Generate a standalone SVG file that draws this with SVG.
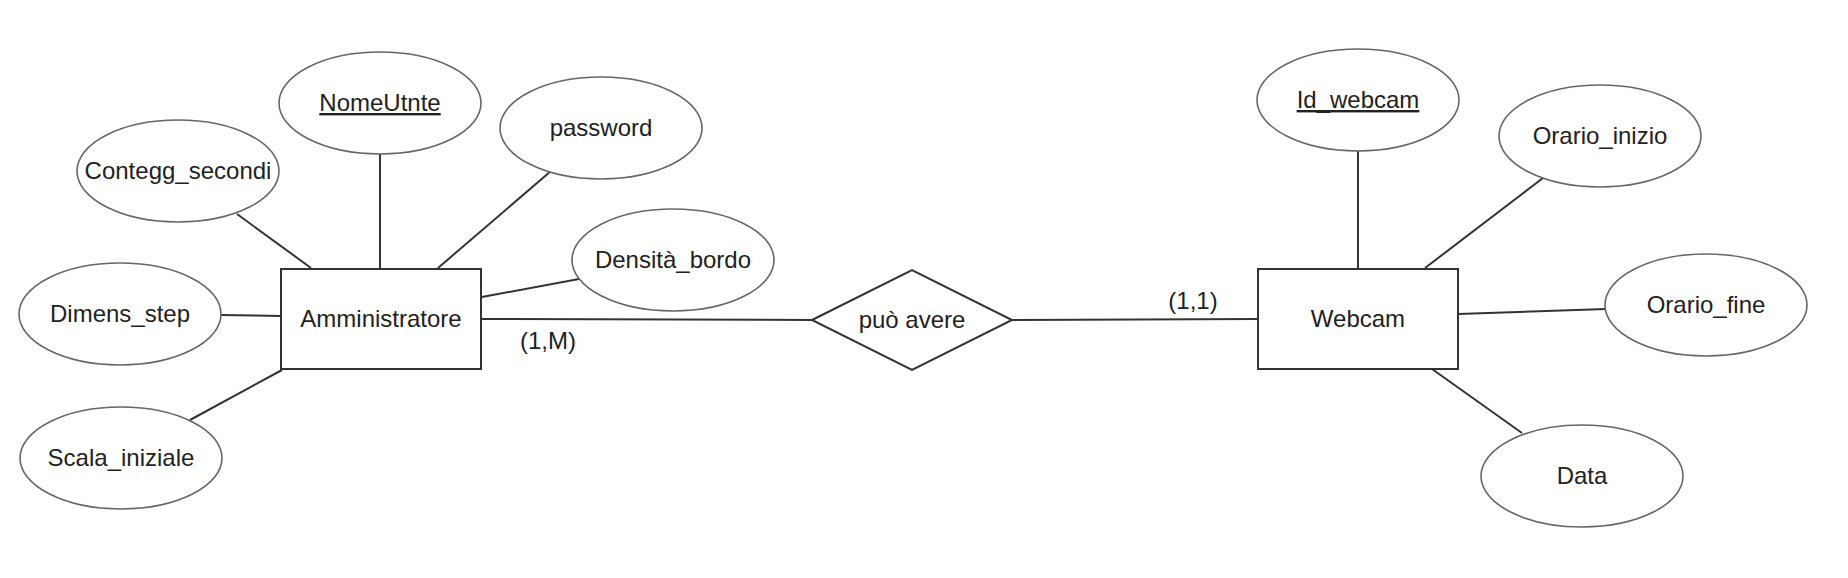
<svg xmlns="http://www.w3.org/2000/svg" width="1848" height="578" viewBox="0 0 1848 578">
<style>
.ent{fill:#fff;stroke:#333;stroke-width:2}
.att{fill:#fff;stroke:#666;stroke-width:1.6}
.rel{fill:#fff;stroke:#333;stroke-width:2}
.ln{stroke:#333;stroke-width:2;fill:none}
text{font-family:"Liberation Sans",Arial,sans-serif;font-size:24px;fill:#222;text-anchor:middle}
.key{text-decoration:underline}
</style>
<rect width="1848" height="578" fill="#fff"/>
<g id="connectors">
<line class="ln" x1="237" y1="214" x2="311" y2="268"/>
<line class="ln" x1="380" y1="154" x2="380" y2="268"/>
<line class="ln" x1="551" y1="171" x2="438" y2="268"/>
<line class="ln" x1="579" y1="279" x2="482" y2="297"/>
<line class="ln" x1="220" y1="315" x2="281" y2="316"/>
<line class="ln" x1="282" y1="370" x2="190" y2="420"/>
<line class="ln" x1="481" y1="319" x2="812" y2="320"/>
<line class="ln" x1="1012" y1="320" x2="1258" y2="319"/>
<line class="ln" x1="1358" y1="150" x2="1358" y2="268"/>
<line class="ln" x1="1543" y1="178" x2="1425" y2="268"/>
<line class="ln" x1="1458" y1="314" x2="1606" y2="309"/>
<line class="ln" x1="1432" y1="369" x2="1522" y2="433"/>
<text x="548" y="349">(1,M)</text>
<text x="1193" y="309">(1,1)</text>
</g>
<g id="amministratore">
<rect class="ent" x="281" y="269" width="200" height="100"/>
<text x="381" y="327">Amministratore</text>
</g>
<g id="webcam">
<rect class="ent" x="1258" y="269" width="200" height="100"/>
<text x="1358" y="327">Webcam</text>
</g>
<g id="puo-avere">
<polygon class="rel" points="812,320 912,270 1012,320 912,370"/>
<text x="912" y="328">può avere</text>
</g>
<g id="nomeutnte">
<ellipse class="att" cx="380" cy="103" rx="101" ry="51"/>
<text class="key" x="380" y="111">NomeUtnte</text>
</g>
<g id="contegg-secondi">
<ellipse class="att" cx="178" cy="171" rx="101" ry="51"/>
<text x="178" y="179">Contegg_secondi</text>
</g>
<g id="password">
<ellipse class="att" cx="601" cy="128" rx="101" ry="51"/>
<text x="601" y="136">password</text>
</g>
<g id="densita-bordo">
<ellipse class="att" cx="673" cy="260" rx="101" ry="51"/>
<text x="673" y="268">Densità_bordo</text>
</g>
<g id="dimens-step">
<ellipse class="att" cx="120" cy="314" rx="101" ry="51"/>
<text x="120" y="322">Dimens_step</text>
</g>
<g id="scala-iniziale">
<ellipse class="att" cx="121" cy="458" rx="101" ry="51"/>
<text x="121" y="466">Scala_iniziale</text>
</g>
<g id="id-webcam">
<ellipse class="att" cx="1358" cy="100" rx="101" ry="51"/>
<text class="key" x="1358" y="108">Id_webcam</text>
</g>
<g id="orario-inizio">
<ellipse class="att" cx="1600" cy="136" rx="101" ry="51"/>
<text x="1600" y="144">Orario_inizio</text>
</g>
<g id="orario-fine">
<ellipse class="att" cx="1706" cy="305" rx="101" ry="51"/>
<text x="1706" y="313">Orario_fine</text>
</g>
<g id="data">
<ellipse class="att" cx="1582" cy="476" rx="101" ry="51"/>
<text x="1582" y="484">Data</text>
</g>
</svg>
